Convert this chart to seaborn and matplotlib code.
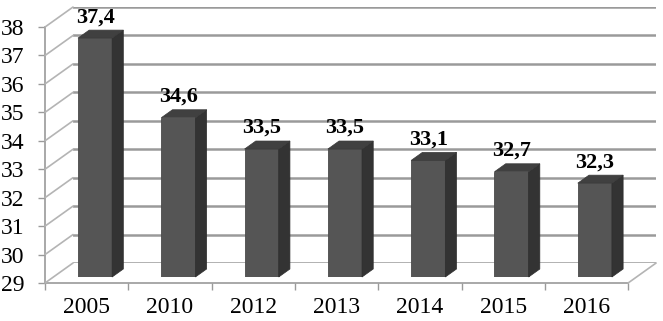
import numpy as np
import pandas as pd
import matplotlib
matplotlib.use("Agg")
import matplotlib.pyplot as plt
import seaborn as sns
from matplotlib.patches import Polygon
from matplotlib.lines import Line2D

years = ["2005", "2010", "2012", "2013", "2014", "2015", "2016"]
values = [37.4, 34.6, 33.5, 33.5, 33.1, 32.7, 32.3]
value_labels = ["37,4", "34,6", "33,5", "33,5", "33,1", "32,7", "32,3"]
y_ticks = [29, 30, 31, 32, 33, 34, 35, 36, 37, 38]

sns.set_theme(style="white")
plt.rcParams['font.family'] = ['Liberation Serif', 'DejaVu Serif']

DPI = 100
W, H = 663, 321
fig = plt.figure(figsize=(W / DPI, H / DPI), dpi=DPI)
fig.patch.set_facecolor("white")

# geometry in pixels
DX, DY = 28.0, 20.0          # full depth vector
FRONT = -0.3                 # front plane relative to bar plane (fraction of depth)
BACK = 0.7
left_px = 53.4
width_px = 583.1
bottom_px = 321 - 277
height_px = 9 * 28.44

def rect(dxf):
    return [(left_px + dxf * DX) / W, (bottom_px + dxf * DY) / H, width_px / W, height_px / H]

ax_back = fig.add_axes(rect(BACK))
ax_front = fig.add_axes(rect(FRONT))
ax = fig.add_axes(rect(0.0))

for a in (ax_back, ax_front, ax):
    a.set_xlim(-0.5, len(years) - 0.5)
    a.set_ylim(y_ticks[0], y_ticks[-1])
    a.patch.set_alpha(0)

grid_col = "#9a9a9a"
# back wall
for s in ax_back.spines.values():
    s.set_visible(False)
ax_back.set_xticks([])
ax_back.set_yticks(y_ticks)
ax_back.tick_params(axis="y", length=0, labelleft=False)
ax_back.yaxis.grid(True, color=grid_col, lw=1.8)
ax_back.set_axisbelow(True)

# front axes: spines, ticks, labels
for k in ("top", "right"):
    ax_front.spines[k].set_visible(False)
for k in ("left", "bottom"):
    ax_front.spines[k].set_color(grid_col)
    ax_front.spines[k].set_linewidth(1.2)
ax_front.set_yticks(y_ticks)
ax_front.set_yticklabels([str(t) for t in y_ticks], fontsize=17, color="black")
ax_front.tick_params(axis="y", direction="out", length=5, width=1, color=grid_col, pad=10, left=True)
ax_front.set_xticks(range(len(years)))
ax_front.set_xticklabels(years, fontsize=17, color="black")
ax_front.set_xticks(np.arange(-0.5, len(years), 1.0), minor=True)
ax_front.tick_params(axis="x", which="major", length=0, pad=10)
ax_front.tick_params(axis="x", which="minor", direction="out", length=5, width=1, color=grid_col, bottom=True)
ax_front.grid(False)

# bar plane
df = pd.DataFrame({"year": years, "value": values})
sns.barplot(data=df, x="year", y="value", ax=ax, color="#555555", width=0.41,
            saturation=1, edgecolor="#4a4a4a", linewidth=0.6)
ax.set_xlim(-0.5, len(years) - 0.5)
ax.set_ylim(y_ticks[0], y_ticks[-1])
ax.axis("off")

fig.canvas.draw()

def to_disp(a, x, y, dxf):
    px, py = a.transData.transform((x, y))
    return px + dxf * DX, py + dxf * DY

# side wall diagonals and floor right edge
for t in y_ticks:
    p0 = to_disp(ax, -0.5, t, FRONT)
    p1 = to_disp(ax, -0.5, t, BACK)
    fig.add_artist(Line2D([p0[0], p1[0]], [p0[1], p1[1]], transform=None,
                          color="#b4b4b4", lw=1.2, zorder=0.5))
p0 = to_disp(ax, len(years) - 0.5, y_ticks[0], FRONT)
p1 = to_disp(ax, len(years) - 0.5, y_ticks[0], BACK)
fig.add_artist(Line2D([p0[0], p1[0]], [p0[1], p1[1]], transform=None,
                      color="#b4b4b4", lw=1.2, zorder=0.5))

# 3D faces of bars
floor_y = ax.transData.transform((0, y_ticks[0]))[1]
bdx, bdy = 0.4 * DX, 0.4 * DY
for p in ax.patches:
    bb = p.get_window_extent()
    x0, x1, y1 = bb.x0, bb.x1, bb.y1
    y0 = max(bb.y0, floor_y)
    side = Polygon([(x1, y0), (x1 + bdx, y0 + bdy), (x1 + bdx, y1 + bdy), (x1, y1)],
                   closed=True, transform=None, facecolor="#333333", edgecolor="#2e2e2e", lw=0.5, zorder=3)
    top = Polygon([(x0, y1), (x1, y1), (x1 + bdx, y1 + bdy), (x0 + bdx, y1 + bdy)],
                  closed=True, transform=None, facecolor="#404040", edgecolor="#3a3a3a", lw=0.5, zorder=3)
    fig.add_artist(side)
    fig.add_artist(top)

# value labels
for p, lab in zip(ax.patches, value_labels):
    cx = p.get_x() + p.get_width() / 2
    ax.annotate(lab, xy=(cx, p.get_height()), xytext=(0, (0.4 * DY + 8) * 0.72),
                textcoords="offset points", ha="center", va="baseline",
                fontsize=16, fontweight="bold", color="black", annotation_clip=False)

fig.savefig("out.png", dpi=DPI)
